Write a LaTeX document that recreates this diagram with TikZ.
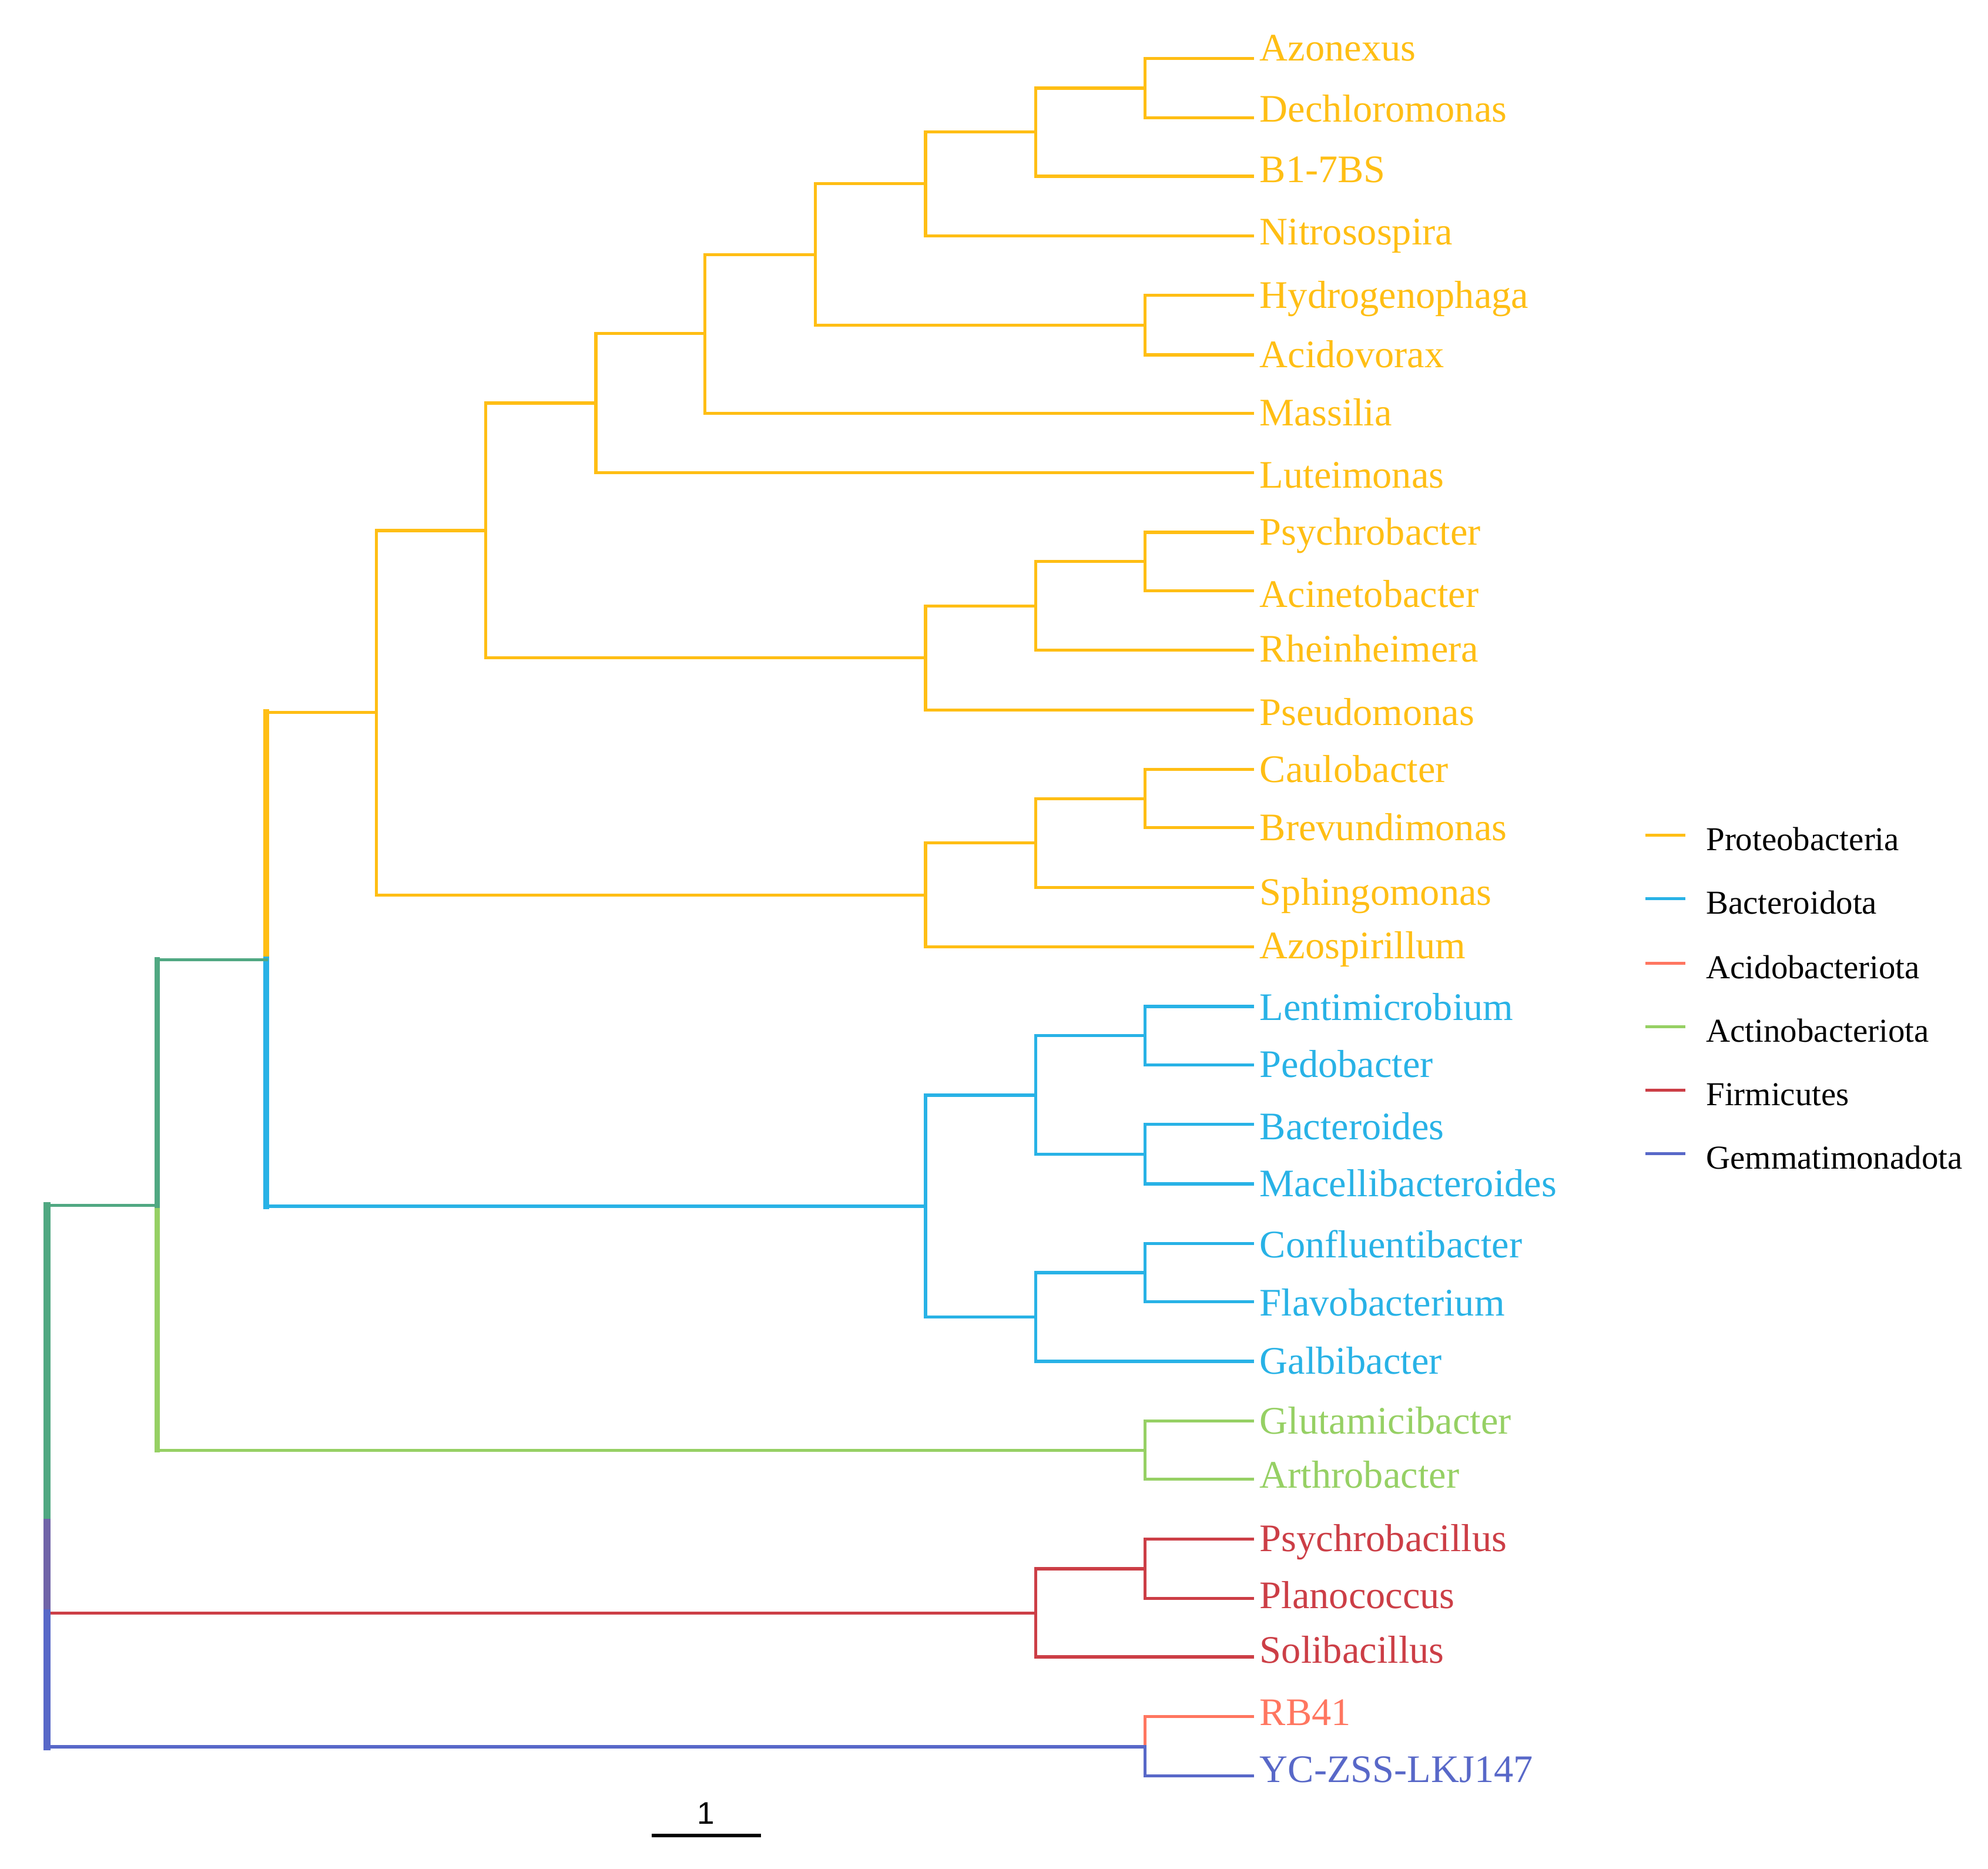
\documentclass[tikz,border=0pt]{standalone}
\usepackage{fontspec}
\setmainfont{Liberation Serif}
\setsansfont{Liberation Sans}
\usetikzlibrary{calc,positioning}

\definecolor{proC}{RGB}{255,190,20}
\definecolor{bacC}{RGB}{40,178,230}
\definecolor{aciC}{RGB}{255,118,96}
\definecolor{actC}{RGB}{150,208,100}
\definecolor{firC}{RGB}{204,62,70}
\definecolor{gemC}{RGB}{88,104,200}
\definecolor{teaC}{RGB}{80,168,130}
\definecolor{purC}{RGB}{112,100,168}

\tikzset{
    br/.style={line width=0.7pt, line cap=rect},
    pro/.style={br, draw=proC}, bac/.style={br, draw=bacC},
    aci/.style={br, draw=aciC}, act/.style={br, draw=actC},
    fir/.style={br, draw=firC}, gem/.style={br, draw=gemC},
    tea/.style={br, draw=teaC}, pur/.style={br, draw=purC},
    lab/.style={font=\fontsize{8.75}{8.75}\selectfont, anchor=base west, inner sep=0pt},
    keytxt/.style={font=\fontsize{7.5}{7.5}\selectfont, anchor=base west, inner sep=0pt}
}

\begin{document}
\begin{tikzpicture}[x=0.01cm, y=-0.01cm]
    \useasboundingbox (0,0) rectangle (1568,1474);

    % Leaf tips (one row every 46.7 px)
    \def\tx{988}
    \coordinate (tAzo) at (\tx,46);   \coordinate (tDec) at (\tx,93);
    \coordinate (tB17) at (\tx,139);  \coordinate (tNit) at (\tx,186);
    \coordinate (tHyd) at (\tx,233);  \coordinate (tAcv) at (\tx,280);
    \coordinate (tMas) at (\tx,326);  \coordinate (tLut) at (\tx,373);
    \coordinate (tPsy) at (\tx,420);  \coordinate (tAcn) at (\tx,466);
    \coordinate (tRhe) at (\tx,513);  \coordinate (tPse) at (\tx,560);
    \coordinate (tCau) at (\tx,607);  \coordinate (tBre) at (\tx,653);
    \coordinate (tSph) at (\tx,700);  \coordinate (tAzs) at (\tx,747);
    \coordinate (tLen) at (\tx,794);  \coordinate (tPed) at (\tx,840);
    \coordinate (tBac) at (\tx,887);  \coordinate (tMac) at (\tx,934);
    \coordinate (tCon) at (\tx,981);  \coordinate (tFla) at (\tx,1027);
    \coordinate (tGal) at (\tx,1074); \coordinate (tGlu) at (\tx,1121);
    \coordinate (tArt) at (\tx,1167); \coordinate (tPsb) at (\tx,1214);
    \coordinate (tPla) at (\tx,1261); \coordinate (tSol) at (\tx,1307);
    \coordinate (tRB4) at (\tx,1354); \coordinate (tYCZ) at (\tx,1401);

    % Internal nodes
    \coordinate (nAD)   at (903,69.5);  \coordinate (nADB) at (817,104);
    \coordinate (nNit)  at (730,145);   \coordinate (nHA)  at (903,256.5);
    \coordinate (nBeta) at (643,201);   \coordinate (nMas) at (556,263);
    \coordinate (nLut)  at (470,318);   \coordinate (nPA)  at (903,443);
    \coordinate (nRhe)  at (817,478);   \coordinate (nGam) at (730,519);
    \coordinate (nPG)   at (383,418.5); \coordinate (nCB)  at (903,630);
    \coordinate (nSph)  at (817,665);   \coordinate (nAlp) at (730,706);
    \coordinate (nPro)  at (297,562);   \coordinate (nLP)  at (903,817);
    \coordinate (nBM)   at (903,910.5); \coordinate (nBa1) at (817,864);
    \coordinate (nCF)   at (903,1004);  \coordinate (nGal) at (817,1039);
    \coordinate (nBac)  at (730,951.5); \coordinate (nPB)  at (210,757);
    \coordinate (nAct)  at (903,1144);  \coordinate (nTea) at (124,951);
    \coordinate (nPP)   at (903,1237.5);\coordinate (nFir) at (817,1272.5);
    \coordinate (nRY)   at (903,1378);
    \coordinate (root)  at (37,951);    \coordinate (rMid) at (37,1201);
    \coordinate (rLow)  at (37,1272.5);

    % Proteobacteria
    \draw[pro] (nAD) |- (tAzo);  \draw[pro] (nAD) |- (tDec);
    \draw[pro] (nADB) |- (nAD);  \draw[pro] (nADB) |- (tB17);
    \draw[pro] (nNit) |- (nADB); \draw[pro] (nNit) |- (tNit);
    \draw[pro] (nHA) |- (tHyd);  \draw[pro] (nHA) |- (tAcv);
    \draw[pro] (nBeta) |- (nNit); \draw[pro] (nBeta) |- (nHA);
    \draw[pro] (nMas) |- (nBeta); \draw[pro] (nMas) |- (tMas);
    \draw[pro] (nLut) |- (nMas); \draw[pro] (nLut) |- (tLut);
    \draw[pro] (nPA) |- (tPsy);  \draw[pro] (nPA) |- (tAcn);
    \draw[pro] (nRhe) |- (nPA);  \draw[pro] (nRhe) |- (tRhe);
    \draw[pro] (nGam) |- (nRhe); \draw[pro] (nGam) |- (tPse);
    \draw[pro] (nPG) |- (nLut);  \draw[pro] (nPG) |- (nGam);
    \draw[pro] (nCB) |- (tCau);  \draw[pro] (nCB) |- (tBre);
    \draw[pro] (nSph) |- (nCB);  \draw[pro] (nSph) |- (tSph);
    \draw[pro] (nAlp) |- (nSph); \draw[pro] (nAlp) |- (tAzs);
    \draw[pro] (nPro) |- (nPG);  \draw[pro] (nPro) |- (nAlp);
    \draw[pro, line width=1.4pt] (nPB) -- (nPB |- nPro);
    \draw[pro] (nPB |- nPro) -- (nPro);

    % Bacteroidota
    \draw[bac] (nLP) |- (tLen);  \draw[bac] (nLP) |- (tPed);
    \draw[bac] (nBM) |- (tBac);  \draw[bac] (nBM) |- (tMac);
    \draw[bac] (nBa1) |- (nLP);  \draw[bac] (nBa1) |- (nBM);
    \draw[bac] (nCF) |- (tCon);  \draw[bac] (nCF) |- (tFla);
    \draw[bac] (nGal) |- (nCF);  \draw[bac] (nGal) |- (tGal);
    \draw[bac] (nBac) |- (nBa1); \draw[bac] (nBac) |- (nGal);
    \draw[bac, line width=1.4pt] (nPB) -- (nPB |- nBac);
    \draw[bac] (nPB |- nBac) -- (nBac);

    % Actinobacteriota
    \draw[act] (nAct) |- (tGlu); \draw[act] (nAct) |- (tArt);
    \draw[act, line width=1.1pt] (nTea) -- (nTea |- nAct);
    \draw[act] (nTea |- nAct) -- (nAct);
    \draw[tea, line width=1.2pt] (nTea) -- (nTea |- nPB);
    \draw[tea] (nTea |- nPB) -- (nPB);

    % Firmicutes
    \draw[fir] (nPP) |- (tPsb);  \draw[fir] (nPP) |- (tPla);
    \draw[fir] (nFir) |- (nPP);  \draw[fir] (nFir) |- (tSol);

    % Acidobacteriota and Gemmatimonadota
    \draw[aci] (nRY) |- (tRB4);  \draw[gem] (nRY) |- (tYCZ);

    % Root
    \draw[tea] (root) -- (nTea);
    \draw[tea, line width=1.6pt] (root) -- (rMid);
    \draw[pur, line width=1.6pt] (rMid) -- (rLow);
    \draw[fir] (rLow) -- (nFir);
    \draw[gem, line width=1.6pt] (rLow) -- (rLow |- nRY);
    \draw[gem] (rLow |- nRY) -- (nRY);

    % Leaf labels (baselines sit a little below the tips)
    \node[lab, text=proC] (Azo) at ($(tAzo)+(5,2)$)  {Azonexus};
    \node[lab, text=proC] (Dec) at ($(tDec)+(5,3)$)  {Dechloromonas};
    \node[lab, text=proC] (B17) at ($(tB17)+(5,5)$)  {B1-7BS};
    \node[lab, text=proC] (Nit) at ($(tNit)+(5,7)$)  {Nitrosospira};
    \node[lab, text=proC] (Hyd) at ($(tHyd)+(5,10)$) {Hydrogenophaga};
    \node[lab, text=proC] (Acv) at ($(tAcv)+(5,10)$) {Acidovorax};
    \node[lab, text=proC] (Mas) at ($(tMas)+(5,10)$) {Massilia};
    \node[lab, text=proC] (Lut) at ($(tLut)+(5,12)$) {Luteimonas};
    \node[lab, text=proC] (Psy) at ($(tPsy)+(5,10)$) {Psychrobacter};
    \node[lab, text=proC] (Acn) at ($(tAcn)+(5,13)$) {Acinetobacter};
    \node[lab, text=proC] (Rhe) at ($(tRhe)+(5,9)$)  {Rheinheimera};
    \node[lab, text=proC] (Pse) at ($(tPse)+(5,12)$) {Pseudomonas};
    \node[lab, text=proC] (Cau) at ($(tCau)+(5,10)$) {Caulobacter};
    \node[lab, text=proC] (Bre) at ($(tBre)+(5,10)$) {Brevundimonas};
    \node[lab, text=proC] (Sph) at ($(tSph)+(5,14)$) {Sphingomonas};
    \node[lab, text=proC] (Azs) at ($(tAzs)+(5,9)$)  {Azospirillum};
    \node[lab, text=bacC] (Len) at ($(tLen)+(5,11)$) {Lentimicrobium};
    \node[lab, text=bacC] (Ped) at ($(tPed)+(5,10)$) {Pedobacter};
    \node[lab, text=bacC] (Bac) at ($(tBac)+(5,12)$) {Bacteroides};
    \node[lab, text=bacC] (Mac) at ($(tMac)+(5,10)$) {Macellibacteroides};
    \node[lab, text=bacC] (Con) at ($(tCon)+(5,11)$) {Confluentibacter};
    \node[lab, text=bacC] (Fla) at ($(tFla)+(5,11)$) {Flavobacterium};
    \node[lab, text=bacC] (Gal) at ($(tGal)+(5,10)$) {Galbibacter};
    \node[lab, text=actC] (Glu) at ($(tGlu)+(5,10)$) {Glutamicibacter};
    \node[lab, text=actC] (Art) at ($(tArt)+(5,7)$)  {Arthrobacter};
    \node[lab, text=firC] (Psb) at ($(tPsb)+(5,10)$) {Psychrobacillus};
    \node[lab, text=firC] (Pla) at ($(tPla)+(5,8)$)  {Planococcus};
    \node[lab, text=firC] (Sol) at ($(tSol)+(5,5)$)  {Solibacillus};
    \node[lab, text=aciC] (RB4) at ($(tRB4)+(5,7)$)  {RB41};
    \node[lab, text=gemC] (YCZ) at ($(tYCZ)+(5,5)$)  {YC-ZSS-LKJ147};

    % Legend
    \coordinate (kPro) at (1299,659);
    \coordinate (kBac) at (1299,709);
    \coordinate (kAci) at (1299,760);
    \coordinate (kAct) at (1299,810);
    \coordinate (kFir) at (1299,860);
    \coordinate (kGem) at (1299,910);
    \draw[pro] (kPro) -- ++(29,0);  \node[keytxt] (kPl) at ($(kPro)+(46,12)$) {Proteobacteria};
    \draw[bac] (kBac) -- ++(29,0);  \node[keytxt] (kBl) at ($(kBac)+(46,12)$) {Bacteroidota};
    \draw[aci] (kAci) -- ++(29,0);  \node[keytxt] (kAl) at ($(kAci)+(46,12)$) {Acidobacteriota};
    \draw[act] (kAct) -- ++(29,0);  \node[keytxt] (kCl) at ($(kAct)+(46,12)$) {Actinobacteriota};
    \draw[fir] (kFir) -- ++(29,0);  \node[keytxt] (kFl) at ($(kFir)+(46,12)$) {Firmicutes};
    \draw[gem] (kGem) -- ++(29,0);  \node[keytxt] (kGl) at ($(kGem)+(46,12)$) {Gemmatimonadota};

    % Scale bar
    \coordinate (sbL) at (514,1448);
    \coordinate (sbR) at (600,1448);
    \draw[line width=0.9pt] (sbL) -- (sbR);
    \node[font=\sffamily\fontsize{7}{7}\selectfont, anchor=base, inner sep=0pt] (sbLab) at ($(sbL)!0.5!(sbR)+(0,-9)$) {1};

\end{tikzpicture}
\end{document}
